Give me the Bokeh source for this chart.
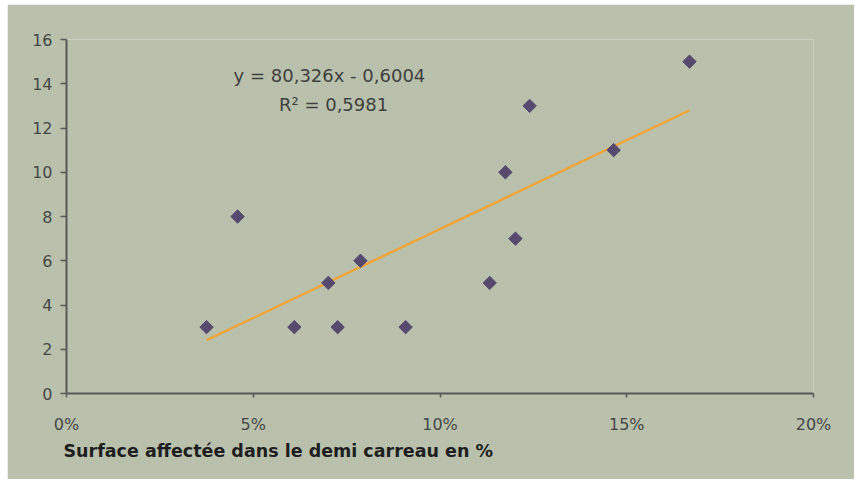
from bokeh.plotting import figure
from bokeh.models import Range1d, NumeralTickFormatter, FixedTicker, Label, Title
from bokeh.embed import file_html
from bokeh.resources import INLINE

# Data
surface = [0.0375, 0.0458, 0.0610, 0.0701, 0.0726, 0.0787, 0.0908,
           0.1133, 0.1175, 0.1202, 0.1240, 0.1465, 0.1668]
count = [3, 8, 3, 5, 3, 6, 3, 5, 10, 7, 13, 11, 15]
slope = 80.326
intercept = -0.6004
eq_text = "y = 80,326x - 0,6004"
r2_text = "R² = 0,5981"
x_ticks = [0.0, 0.05, 0.10, 0.15, 0.20]
y_ticks = [0, 2, 4, 6, 8, 10, 12, 14, 16]
x_label = "Surface affectée dans le demi carreau en %"

BG = "#b9c1ad"
AX = "#575757"
FONT = "DejaVu Sans"

p = figure(width=847, height=475, output_backend="svg", toolbar_location=None,
           x_range=Range1d(0, 0.20), y_range=Range1d(0, 16),
           min_border_left=59, min_border_right=41, min_border_top=35, min_border_bottom=86)
p.margin = (4, 2, 2, 7)
p.background_fill_color = BG
p.border_fill_color = BG
p.outline_line_color = None
p.xgrid.visible = False
p.ygrid.visible = False

for ax in (p.xaxis[0], p.yaxis[0]):
    ax.axis_line_color = AX
    ax.axis_line_width = 2
    ax.major_tick_line_color = AX
    ax.major_tick_line_width = 1.5
    ax.major_tick_in = 0
    ax.minor_tick_line_color = None
    ax.major_label_text_color = "#464646"
    ax.major_label_text_font = FONT
    ax.major_label_text_font_size = "16px"

p.xaxis.ticker = FixedTicker(ticks=x_ticks)
p.yaxis.ticker = FixedTicker(ticks=y_ticks)
p.xaxis.formatter = NumeralTickFormatter(format="0%")
p.xaxis.major_tick_out = 4
p.yaxis.major_tick_out = 6
p.xaxis.major_label_standoff = 17
p.yaxis.major_label_standoff = 8

# trend line from fitted coefficients
x0, x1 = min(surface), max(surface)
p.line([x0, x1], [slope * x0 + intercept, slope * x1 + intercept],
       line_color="#f0a53a", line_width=2.5)

p.scatter(surface, count, marker="square", angle=0.785398, size=9.5,
          fill_color="#574a6e", line_color="#574a6e")

p.add_layout(Label(x=0.0704, y=14.37, text=eq_text, text_align="center",
                   text_baseline="middle", text_font=FONT, text_font_size="18px",
                   text_color="#3f3f3f"))
p.add_layout(Label(x=0.0715, y=13.06, text=r2_text, text_align="center",
                   text_baseline="middle", text_font=FONT, text_font_size="18px",
                   text_color="#3f3f3f"))

t = Title(text=x_label, align="left", offset=-3, standoff=4,
          text_font=FONT, text_font_size="17.5px", text_font_style="bold",
          text_color="#1e1e1e")
p.add_layout(t, "below")

open("out.html", "w").write(file_html(p, INLINE))
